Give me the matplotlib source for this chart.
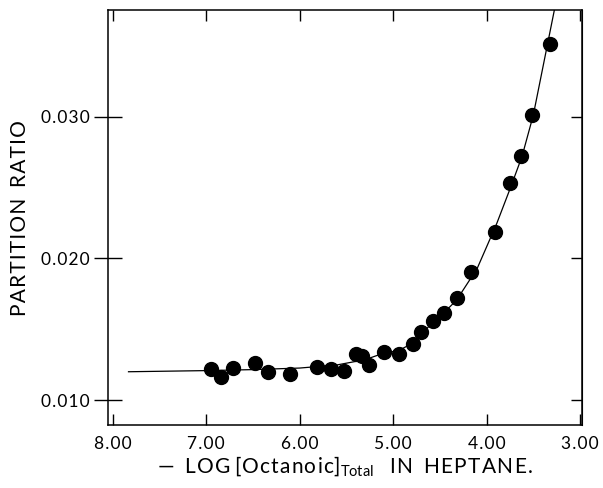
import numpy as np
import matplotlib
matplotlib.use("Agg")
from matplotlib import pyplot as plt

# measured points: -log[octanoic] vs partition ratio
neg_log_conc = [6.95, 6.84, 6.71, 6.48, 6.34, 6.10, 5.81, 5.66, 5.53, 5.40, 5.33, 5.26,
                5.10, 4.94, 4.79, 4.70, 4.57, 4.46, 4.32, 4.17, 3.91, 3.75, 3.63, 3.51, 3.32]
partition = [0.01219, 0.01164, 0.01224, 0.01259, 0.01195, 0.01183, 0.01231, 0.01219, 0.01205,
             0.01325, 0.01311, 0.01247, 0.01341, 0.01327, 0.01393, 0.01478, 0.01560, 0.01612,
             0.01718, 0.01906, 0.02183, 0.02534, 0.02720, 0.03011, 0.03510]

# drawn curve
curve_x = [7.83, 7.00, 6.50, 6.00, 5.60, 5.30, 5.14, 4.93, 4.78, 4.57, 4.45, 4.32, 4.10,
           4.00, 3.89, 3.74, 3.62, 3.50, 3.275]
curve_y = [0.01200, 0.01208, 0.01215, 0.01226, 0.01248, 0.01285, 0.01322, 0.01353, 0.01405,
           0.01553, 0.01620, 0.01706, 0.01929, 0.02080, 0.02247, 0.02505, 0.02720, 0.03010,
           0.03750]

x_ticks = [8.0, 7.0, 6.0, 5.0, 4.0, 3.0]
x_labels = ["8.00", "7.00", "6.00", "5.00", "4.00", "3.00"]
y_ticks = [0.010, 0.020, 0.030]
y_labels = ["0.010", "0.020", "0.030"]

plt.rcParams['font.family'] = ['Lato', 'DejaVu Sans']
plt.rcParams['mathtext.fontset'] = 'custom'
plt.rcParams['mathtext.rm'] = 'Lato'
plt.rcParams['text.color'] = 'black'


def spaced(s):
    # wide letter spacing like the original lettering
    return '\u200a'.join(s)


fig = plt.figure(figsize=(6.03, 4.88), dpi=100)
ax = fig.add_axes([0.179, 0.129, 0.786, 0.850])

ax.plot(curve_x, curve_y, color='black', lw=0.9, zorder=2)
ax.plot(neg_log_conc, partition, 'o', color='black', ms=10, zorder=3)

ax.set_xlim(8.05, 2.98)
ax.set_ylim(0.00824, 0.0375)
ax.set_xticks(x_ticks)
ax.set_xticklabels([spaced(s) for s in x_labels])
ax.set_yticks(y_ticks)
ax.set_yticklabels([spaced(s) for s in y_labels])

for s in ax.spines.values():
    s.set_linewidth(1.1)

ax.tick_params(axis='x', direction='in', length=8, width=1.0, top=True, pad=8,
               labelsize=12.5, labelcolor='black')
ax.tick_params(axis='y', direction='inout', length=20, width=1.0, pad=3, labelsize=12.5,
               labelcolor='black')

# right side ticks point inward only
ax_r = ax.secondary_yaxis('right')
ax_r.set_yticks(y_ticks)
ax_r.tick_params(direction='in', length=8, width=1.0, labelright=False)

xlab = '\u2014  ' + spaced('LOG') + ' [' + spaced('Octanoic') + ']$_{\\mathrm{Total}}$   ' \
       + spaced('IN') + '  ' + spaced('HEPTANE.')
ax.set_xlabel(xlab, fontsize=15, color='black', labelpad=2)
ax.set_ylabel(spaced('PARTITION') + '  ' + spaced('RATIO'), fontsize=15, color='black',
              labelpad=8)

fig.savefig('out.png', dpi=100)
